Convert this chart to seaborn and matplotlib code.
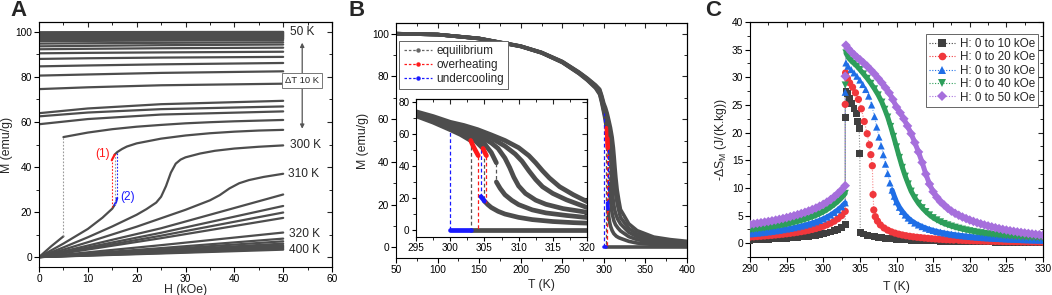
import numpy as np
import matplotlib
matplotlib.use("Agg")
import matplotlib.pyplot as plt
import seaborn as sns
from matplotlib.lines import Line2D
from matplotlib.ticker import MultipleLocator

# ======================= Panel A : M(H) isotherms =======================
H_FM = [0, 10, 25, 50]
T_FM = [50, 60, 70, 80, 90, 100, 110, 120, 130, 140, 150, 160, 170, 180,
        190, 200, 210, 220, 230, 240, 250, 260, 270]
M_FM = [
    [99.85, 99.9, 99.95, 100.0],
    [99.55, 99.6, 99.65, 99.7],
    [99.25, 99.3, 99.35, 99.4],
    [98.95, 99.0, 99.05, 99.1],
    [98.6, 98.65, 98.7, 98.8],
    [98.25, 98.3, 98.4, 98.5],
    [97.9, 97.95, 98.05, 98.2],
    [97.55, 97.6, 97.7, 97.9],
    [97.2, 97.25, 97.4, 97.6],
    [96.85, 96.9, 97.05, 97.25],
    [96.5, 96.55, 96.7, 96.9],
    [95.9, 96.0, 96.15, 96.4],
    [94.8, 94.95, 95.15, 95.4],
    [93.6, 93.8, 94.1, 94.4],
    [92.3, 92.5, 92.75, 93.0],
    [90.5, 90.7, 90.9, 91.2],
    [88.0, 88.3, 88.6, 88.9],
    [84.7, 85.1, 85.6, 86.2],
    [80.6, 81.1, 81.8, 82.5],
    [74.6, 75.4, 76.3, 77.0],
    [63.9, 66.0, 67.9, 69.4],
    [62.5, 64.2, 65.7, 66.9],
    [59.0, 61.3, 63.3, 64.7],
]
# 280 K (transition at 5 kOe)
H_280_LOW = [0, 2.5, 5]
M_280_LOW = [0, 4.8, 9.2]
H_280_UP = [5, 10, 15, 20, 25, 30, 35, 40, 45, 50]
M_280_UP = [53.3, 55.3, 56.8, 57.9, 58.7, 59.4, 59.9, 60.3, 60.6, 60.9]
# 290 K (transition near 15.5 kOe)
H_290_LOW = [0, 5, 10, 13, 15, 15.5]
M_290_LOW = [0, 6.0, 12.5, 17.5, 21.5, 23.2]
H_290_UC = [15.5, 15.8, 16.0]
M_290_UC = [23.2, 24.6, 26.2]
H_290_OH = [14.9, 15.2, 15.5]
M_290_OH = [43.0, 44.3, 45.5]
H_290_UP = [15.5, 16, 17, 18, 20, 25, 30, 35, 40, 45, 50]
M_290_UP = [45.5, 46.6, 48.0, 49.1, 50.5, 52.6, 54.0, 55.0, 55.7, 56.2, 56.5]
# 300 K
H_300 = [0, 5, 10, 15, 20, 22, 24, 25, 26, 27, 28, 29, 30, 33, 36, 40, 45, 50]
M_300 = [0, 4.3, 8.8, 13.6, 18.8, 21.3, 24.2, 26.8, 31.5, 37.5, 41.5, 43.3,
         44.3, 46.0, 47.2, 48.2, 49.0, 49.6]
# 310 K
H_310 = [0, 10, 20, 30, 35, 37, 39, 41, 43, 46, 50]
M_310 = [0, 6.6, 13.5, 21.0, 25.2, 27.5, 30.5, 32.8, 34.2, 35.6, 37.0]
# paramagnetic isotherms
H_PM = [0, 25, 50]
M_PM = [
    [0, 12.8, 27.8],
    [0, 10.8, 22.7],
    [0, 9.5, 19.8],
    [0, 8.4, 17.4],
    [0, 5.3, 10.9],
    [0, 4.0, 8.2],
    [0, 3.4, 7.0],
    [0, 2.9, 6.0],
    [0, 2.6, 5.3],
    [0, 2.3, 4.7],
    [0, 2.05, 4.2],
    [0, 1.8, 3.7],
    [0, 1.6, 3.3],
]

# ======================= Panel B : M(T) =======================
TB_LOW = [50, 100, 150, 200, 225, 250, 270, 280, 290]
MB0_LOW = [100, 99.6, 97.7, 94.0, 91.0, 86.5, 81.3, 78.2, 74.5]
MB10_LOW = [100, 99.6, 97.72, 94.04, 91.05, 86.6, 81.45, 78.4, 74.8]
MB20_LOW = [100, 99.6, 97.74, 94.08, 91.1, 86.7, 81.6, 78.6, 75.1]
MB30_LOW = [100, 99.6, 97.76, 94.12, 91.15, 86.8, 81.75, 78.8, 75.4]
MB40_LOW = [100, 99.6, 97.78, 94.16, 91.2, 86.9, 81.9, 79.0, 75.7]
MB50_LOW = [100, 99.6, 97.8, 94.2, 91.25, 87.0, 82.05, 79.2, 76.0]

TB0 = [295, 297.5, 300, 301.5, 303]
MB0 = [71.5, 67.5, 62.8, 59.8, 56.0]
TB0_OH = [303, 303.3, 303.6, 304.1]
MB0_OH = [56.0, 53.0, 50.5, 46.5]
TB0_ZERO = [303, 400]
MB0_ZERO = [0, 0]
TB0_UC = [300, 303]
MB0_UC = [0, 0]

TB10 = [295, 297.5, 300, 302, 303.5, 304.8]
MB10 = [72.0, 68.3, 63.8, 60.3, 56.5, 51.0]
TB10_OH = [304.8, 305.0, 305.3]
MB10_OH = [51.0, 49.0, 46.5]
TB10_UC = [304.5, 304.8, 305.0]
MB10_UC = [20.8, 19.2, 18.0]
TB10_B = [305.0, 305.5, 306, 307, 308, 310, 312, 315, 318, 320, 330, 340, 360, 380, 400]
MB10_B = [18.0, 15.8, 14.0, 11.6, 9.9, 7.8, 6.4, 5.2, 4.5, 4.2, 2.8, 2.0, 1.3, 0.9, 0.7]

TB20 = [295, 297.5, 300, 302, 304, 305, 306, 306.75]
MB20 = [72.5, 69.0, 64.8, 61.8, 57.2, 54.0, 48.5, 42.0]
TB20_B = [306.75, 307.3, 308, 309, 310, 312, 314, 317, 320, 330, 340, 360, 380, 400]
MB20_B = [30.0, 26.0, 22.0, 18.5, 15.8, 12.5, 10.6, 9.0, 7.7, 5.0, 3.6, 2.3, 1.7, 1.3]

TB30 = [295, 297.5, 300, 302, 304, 306, 307, 308, 308.7, 309.3, 310, 311, 312.5,
        314, 316.5, 320, 330, 340, 360, 380, 400]
MB30 = [73.0, 69.6, 65.7, 63.2, 59.5, 54.5, 51.0, 45.0, 39.0, 33.0, 27.5, 22.8, 18.6,
        16.0, 13.3, 11.0, 7.0, 5.0, 3.2, 2.4, 1.8]
TB40 = [295, 297.5, 300, 302, 304, 306, 308, 309.5, 310.5, 311.5, 312.5, 313.5, 315,
        317, 320, 330, 340, 360, 380, 400]
MB40 = [73.5, 70.3, 66.5, 64.4, 61.3, 57.5, 52.5, 47.5, 43.0, 37.0, 31.5, 27.0, 22.8,
        18.8, 14.0, 8.8, 6.3, 4.0, 3.0, 2.3]
TB50 = [295, 297.5, 300, 302, 304, 306, 308, 310, 311.5, 312.5, 313.5, 314.5, 316,
        318, 320, 330, 340, 360, 380, 400]
MB50 = [74.0, 71.0, 67.4, 65.4, 62.8, 59.5, 56.0, 51.5, 46.5, 42.0, 37.0, 32.5, 27.0,
        22.0, 17.7, 11.0, 7.8, 4.8, 3.6, 2.8]

# vertical jump lines (T, M_from, M_to)
EQ_LINES = [(303.0, 56.0, 0.0), (305.0, 49.0, 18.0), (306.75, 42.0, 30.0)]
OH_LINES = [(304.1, 46.5, 0.0), (305.3, 46.5, 16.5)]
UC_LINES = [(300.0, 0.0, 62.8), (304.5, 20.8, 51.5)]

# ======================= Panel C : -dS_M(T) =======================
C_LABELS = ["H: 0 to 10 kOe", "H: 0 to 20 kOe", "H: 0 to 30 kOe",
            "H: 0 to 40 kOe", "H: 0 to 50 kOe"]
TC_LOW = list(np.arange(290, 303.01, 0.5))
SC10_LOW = [0.55, 0.58, 0.61, 0.64, 0.67, 0.7, 0.74, 0.78, 0.82, 0.86, 0.9, 0.95, 1.0,
            1.06, 1.12, 1.19, 1.27, 1.36, 1.46, 1.57, 1.7, 1.85, 2.02, 2.22, 2.47, 2.8, 3.35]
SC20_LOW = [1.1, 1.15, 1.2, 1.25, 1.3, 1.36, 1.42, 1.48, 1.55, 1.62, 1.7, 1.78, 1.87,
            1.97, 2.08, 2.2, 2.33, 2.48, 2.65, 2.84, 3.06, 3.32, 3.62, 3.98, 4.42, 4.98, 5.75]
SC30_LOW = [1.7, 1.76, 1.83, 1.9, 1.98, 2.06, 2.15, 2.24, 2.34, 2.45, 2.56, 2.68, 2.81,
            2.95, 3.1, 3.27, 3.45, 3.65, 3.87, 4.12, 4.4, 4.72, 5.1, 5.55, 6.05, 6.6, 7.3]
SC40_LOW = [2.4, 2.48, 2.56, 2.65, 2.74, 2.84, 2.94, 3.05, 3.17, 3.3, 3.44, 3.59, 3.75,
            3.92, 4.1, 4.3, 4.52, 4.76, 5.02, 5.32, 5.66, 6.05, 6.5, 7.0, 7.55, 8.2, 9.0]
SC50_LOW = [3.4, 3.5, 3.6, 3.7, 3.81, 3.92, 4.04, 4.17, 4.31, 4.46, 4.62, 4.79, 4.97,
            5.16, 5.36, 5.58, 5.82, 6.08, 6.36, 6.68, 7.03, 7.43, 7.88, 8.4, 8.98, 9.62, 10.4]

TC10_HI = [303.0, 303.1, 303.3, 303.6, 303.9, 304.2, 304.5, 304.7, 304.9, 305.0,
           305.05, 305.5, 306, 306.5, 307, 307.5, 308, 308.5, 309, 309.5, 310, 310.5,
           311, 311.5, 312, 312.5, 313, 313.5, 314, 314.5, 315, 315.5, 316, 316.5, 317,
           317.5, 318]
SC10_HI = [22.8, 27.5, 27.0, 26.2, 25.3, 24.4, 23.4, 22.0, 20.8, 16.2,
           1.9, 1.65, 1.45, 1.3, 1.17, 1.06, 0.97, 0.89, 0.82, 0.76, 0.71, 0.66,
           0.62, 0.58, 0.55, 0.52, 0.49, 0.46, 0.44, 0.42, 0.4, 0.38, 0.36, 0.34, 0.33,
           0.31, 0.3]
TC20_HI = [303.0, 303.05, 303.3, 303.6, 304.0, 304.4, 304.8, 305.2, 305.6, 306.0, 306.3,
           306.5, 306.7, 306.8, 306.9, 307.1, 307.4, 307.8, 308.3, 308.8, 309.3, 309.8,
           310.3, 310.8, 311.3, 311.8, 312.3, 312.8, 313.3, 313.8, 314.3, 314.8, 315.3,
           315.8, 316.3, 316.8, 317.3, 317.8]
SC20_HI = [25.1, 30.8, 29.8, 29.0, 28.2, 27.2, 26.0, 24.3, 22.0, 19.8, 17.8,
           16.0, 14.0, 8.8, 6.0, 4.8, 4.0, 3.3, 2.75, 2.35, 2.05, 1.82,
           1.63, 1.48, 1.35, 1.24, 1.15, 1.07, 1.0, 0.93, 0.87, 0.81, 0.76,
           0.71, 0.67, 0.63, 0.6, 0.57]
TC30_HI = [303.0, 303.1, 303.4, 303.8, 304.2, 304.6, 305.0, 305.4, 305.8, 306.2, 306.6,
           307.0, 307.3, 307.6, 307.9, 308.2, 308.5, 308.8, 309.1, 309.4, 309.7, 310.0,
           310.4, 310.8, 311.2, 311.6, 312.0, 312.5, 313, 313.5, 314, 314.5, 315, 315.5,
           316, 316.5, 317, 317.5, 318]
SC30_HI = [27.3, 32.6, 32.0, 31.4, 30.8, 30.2, 29.5, 28.7, 27.8, 26.6, 25.0,
           22.9, 21.0, 19.2, 17.6, 16.0, 14.3, 12.6, 10.9, 9.6, 8.5, 7.5,
           6.5, 5.75, 5.1, 4.55, 4.1, 3.65, 3.3, 3.0, 2.72, 2.5, 2.3, 2.13,
           1.98, 1.85, 1.73, 1.62, 1.52]
TC40_HI = [303.0, 303.1, 303.4, 303.8, 304.2, 304.6, 305.0, 305.5, 306.0, 306.5, 307.0,
           307.5, 308.0, 308.4, 308.8, 309.2, 309.6, 310.0, 310.4, 310.8, 311.2, 311.6,
           312.0, 312.5, 313.0, 313.5, 314.0, 314.5, 315.0, 315.5, 316, 316.5, 317, 317.5,
           318]
SC40_HI = [28.6, 34.4, 33.6, 33.0, 32.5, 32.0, 31.4, 30.6, 29.8, 28.9, 27.9,
           26.8, 25.5, 24.2, 22.8, 21.1, 19.3, 17.4, 15.5, 13.7, 12.1, 10.7,
           9.4, 8.2, 7.2, 6.4, 5.7, 5.1, 4.6, 4.2, 3.85, 3.55, 3.3, 3.08,
           2.88]
TC50_HI = [303.0, 303.1, 303.4, 303.8, 304.2, 304.6, 305.0, 305.5, 306.0, 306.5, 307.0,
           307.5, 308.0, 308.5, 309.0, 309.5, 310.0, 310.5, 311.0, 311.5, 312.0, 312.5,
           313.0, 313.5, 314.0, 314.5, 315.0, 315.5, 316, 316.5, 317, 317.5, 318]
SC50_HI = [30.2, 35.8, 35.2, 34.6, 34.1, 33.6, 33.2, 32.6, 32.0, 31.3, 30.6,
           29.8, 29.0, 28.1, 27.2, 26.0, 24.6, 23.6, 22.5, 21.2, 19.8, 18.2,
           16.5, 14.6, 12.5, 10.7, 9.3, 8.3, 7.5, 6.9, 6.3, 5.8, 5.4]

TC_TAIL = list(np.arange(318.5, 330.01, 0.5))
SC10_TAIL = [0.29, 0.28, 0.27, 0.26, 0.25, 0.24, 0.23, 0.22, 0.21, 0.2, 0.195, 0.19,
             0.18, 0.175, 0.17, 0.165, 0.16, 0.155, 0.15, 0.145, 0.14, 0.135, 0.13, 0.13]
SC20_TAIL = [0.54, 0.51, 0.48, 0.45, 0.43, 0.41, 0.39, 0.37, 0.35, 0.34, 0.32, 0.31,
             0.29, 0.28, 0.27, 0.26, 0.25, 0.24, 0.23, 0.22, 0.215, 0.21, 0.205, 0.2]
SC30_TAIL = [1.44, 1.36, 1.29, 1.22, 1.16, 1.1, 1.05, 1.0, 0.96, 0.92, 0.88, 0.85,
             0.82, 0.78, 0.75, 0.72, 0.69, 0.67, 0.64, 0.62, 0.6, 0.58, 0.56, 0.54]
SC40_TAIL = [2.7, 2.53, 2.38, 2.24, 2.11, 1.99, 1.88, 1.78, 1.69, 1.6, 1.52, 1.45,
             1.38, 1.32, 1.26, 1.2, 1.15, 1.1, 1.06, 1.02, 0.98, 0.94, 0.91, 0.88]
SC50_TAIL = [5.05, 4.73, 4.45, 4.18, 3.94, 3.71, 3.5, 3.3, 3.12, 2.95, 2.79, 2.64,
             2.5, 2.37, 2.25, 2.14, 2.04, 1.94, 1.85, 1.76, 1.68, 1.6, 1.53, 1.46]
# temperature from which each high-T branch is continuous (dense data in the original)
C_DENSE_FROM = [305.05, 307.1, 309.4, 303.1, 303.1]

# ======================= styling =======================
sns.set_theme(style="ticks")
plt.rcParams["font.family"] = ["Liberation Sans", "DejaVu Sans"]
plt.rcParams["mathtext.fontset"] = "custom"
plt.rcParams["mathtext.rm"] = "Liberation Sans"
plt.rcParams["mathtext.it"] = "Liberation Sans:italic"
plt.rcParams["axes.linewidth"] = 0.8
plt.rcParams["axes.edgecolor"] = "black"

TICK_FS = 7.3
LABEL_FS = 8.8
GREY = "#4d4d4d"
RED = "#ff1a1a"
BLUE = "#1a1aff"

W, Hpx = 1052, 295
fig = plt.figure(figsize=(W / 100, Hpx / 100), dpi=100)


def frac(l, t, r, b):
    return [l / W, 1 - b / Hpx, (r - l) / W, (b - t) / Hpx]


def line(ax, x, y, **kw):
    sns.lineplot(x=list(x), y=list(y), ax=ax, estimator=None, sort=False, **kw)


def style_axes(ax, xmaj, xmin, ymaj, ymin, mirror=True):
    ax.xaxis.set_major_locator(MultipleLocator(xmaj))
    ax.xaxis.set_minor_locator(MultipleLocator(xmin))
    ax.yaxis.set_major_locator(MultipleLocator(ymaj))
    ax.yaxis.set_minor_locator(MultipleLocator(ymin))
    ax.tick_params(which="major", direction="out", length=3.5, width=0.8,
                   labelsize=TICK_FS, pad=1.5, colors="black")
    ax.tick_params(which="minor", direction="out", length=2, width=0.7)
    ax.grid(False)
    ax.set_facecolor("white")
    for s in ax.spines.values():
        s.set_color("black")
        s.set_linewidth(0.8)
    if mirror:
        sx = ax.secondary_xaxis("top")
        sx.xaxis.set_major_locator(MultipleLocator(xmaj))
        sx.xaxis.set_minor_locator(MultipleLocator(xmin))
        sx.tick_params(which="major", direction="in", length=3.5, width=0.8, labeltop=False)
        sx.tick_params(which="minor", direction="in", length=2, width=0.7)
        sy = ax.secondary_yaxis("right")
        sy.yaxis.set_major_locator(MultipleLocator(ymaj))
        sy.yaxis.set_minor_locator(MultipleLocator(ymin))
        sy.tick_params(which="major", direction="in", length=3.5, width=0.8, labelright=False)
        sy.tick_params(which="minor", direction="in", length=2, width=0.7)


# ---------------------- Panel A ----------------------
axA = fig.add_axes(frac(39, 22, 332, 267))
LW_A = 1.6
for row in M_FM:
    line(axA, H_FM, row, color=GREY, linewidth=LW_A)
for row in M_PM:
    line(axA, H_PM, row, color=GREY, linewidth=LW_A)
line(axA, H_310, M_310, color=GREY, linewidth=LW_A)
line(axA, H_300, M_300, color=GREY, linewidth=LW_A)
line(axA, H_280_LOW, M_280_LOW, color=GREY, linewidth=LW_A)
line(axA, H_280_UP, M_280_UP, color=GREY, linewidth=LW_A)
line(axA, H_290_LOW, M_290_LOW, color=GREY, linewidth=LW_A)
line(axA, H_290_UP, M_290_UP, color=GREY, linewidth=LW_A)
line(axA, H_290_OH, M_290_OH, color=RED, linewidth=LW_A)
line(axA, H_290_UC, M_290_UC, color=BLUE, linewidth=LW_A)
# jump lines
line(axA, [H_280_LOW[-1], H_280_UP[0]], [M_280_LOW[-1], M_280_UP[0]],
     color="#9a9a9a", linewidth=0.8, linestyle=(0, (1.5, 1.5)))
line(axA, [H_290_OH[0], H_290_OH[0]], [M_290_LOW[-1] - 0.8, M_290_OH[0]],
     color=RED, linewidth=0.8, linestyle=(0, (1.5, 1.5)))
line(axA, [H_290_UC[-1], H_290_UC[-1]], [M_290_UC[-1], M_290_UP[1]],
     color=BLUE, linewidth=0.8, linestyle=(0, (1.5, 1.5)))
line(axA, [15.5, 15.5], [M_290_LOW[-1], M_290_UP[0]],
     color="#9a9a9a", linewidth=0.8, linestyle=(0, (1.5, 1.5)))

axA.set_xlim(0, 60)
axA.set_ylim(-4.4, 104.4)
style_axes(axA, 10, 5, 20, 10)
axA.set_xlabel("H (kOe)", fontsize=LABEL_FS)
axA.set_ylabel("M (emu/g)", fontsize=LABEL_FS)
axA.xaxis.set_label_coords(0.5, -0.094)
axA.xaxis.label.set_va("center")
axA.yaxis.set_label_coords(-0.108, 0.5)
axA.yaxis.label.set_va("center")

TEXT_FS = 8.6
axA.text(51.4, 100.0, "50 K", fontsize=TEXT_FS, va="center", ha="left")
axA.text(51.3, 49.8, "300 K", fontsize=TEXT_FS, va="center", ha="left")
axA.text(50.9, 36.8, "310 K", fontsize=TEXT_FS, va="center", ha="left")
axA.text(51.1, 10.2, "320 K", fontsize=TEXT_FS, va="center", ha="left")
axA.text(51.1, 3.0, "400 K", fontsize=TEXT_FS, va="center", ha="left")
axA.annotate("", xy=(53.9, 95.2), xytext=(53.9, 57.0),
             arrowprops=dict(arrowstyle="<|-|>", color="#555555", lw=0.9,
                             mutation_scale=6, shrinkA=0, shrinkB=0))
axA.text(53.9, 78.3, "ΔT 10 K", fontsize=6.8, ha="center", va="center",
         bbox=dict(boxstyle="square,pad=0.3", fc="white", ec="#777777", lw=0.7))
axA.text(14.6, 45.8, "(1)", color=RED, fontsize=TEXT_FS, ha="right", va="center")
axA.text(16.7, 26.6, "(2)", color=BLUE, fontsize=TEXT_FS, ha="left", va="center")

# ---------------------- Panel B ----------------------
axB = fig.add_axes(frac(396, 23, 687, 258))
axI = fig.add_axes(frac(416, 99, 587, 237))


def draw_B(ax, lw):
    line(ax, TB_LOW + TB0, MB0_LOW + MB0, color=GREY, linewidth=lw)
    line(ax, TB_LOW + TB10, MB10_LOW + MB10, color=GREY, linewidth=lw)
    line(ax, TB_LOW + TB20, MB20_LOW + MB20, color=GREY, linewidth=lw)
    line(ax, TB_LOW + TB30, MB30_LOW + MB30, color=GREY, linewidth=lw)
    line(ax, TB_LOW + TB40, MB40_LOW + MB40, color=GREY, linewidth=lw)
    line(ax, TB_LOW + TB50, MB50_LOW + MB50, color=GREY, linewidth=lw)
    line(ax, TB10_B, MB10_B, color=GREY, linewidth=lw)
    line(ax, TB20_B, MB20_B, color=GREY, linewidth=lw)
    line(ax, TB0_ZERO, MB0_ZERO, color=GREY, linewidth=lw)
    for t, a, b in EQ_LINES:
        line(ax, [t, t], [a, b], color="#555555", linewidth=0.9, linestyle=(0, (3, 2)))
    for t, a, b in OH_LINES:
        line(ax, [t, t], [a, b], color=RED, linewidth=0.9, linestyle=(0, (3, 2)))
    for t, a, b in UC_LINES:
        line(ax, [t, t], [a, b], color=BLUE, linewidth=0.9, linestyle=(0, (3, 2)))
    line(ax, TB0_OH, MB0_OH, color=RED, linewidth=lw)
    line(ax, TB10_OH, MB10_OH, color=RED, linewidth=lw)
    line(ax, TB0_UC, MB0_UC, color=BLUE, linewidth=lw)
    line(ax, TB10_UC, MB10_UC, color=BLUE, linewidth=lw)


draw_B(axB, 2.6)
axB.set_xlim(50, 400)
axB.set_ylim(-5, 105)
style_axes(axB, 50, 25, 20, 10)
axB.set_xlabel("T (K)", fontsize=LABEL_FS)
axB.set_ylabel("M (emu/g)", fontsize=LABEL_FS)
axB.xaxis.set_label_coords(0.5, -0.115)
axB.xaxis.label.set_va("center")
axB.yaxis.set_label_coords(-0.113, 0.5)
axB.yaxis.label.set_va("center")

handlesB = [
    Line2D([0], [0], color="#666666", lw=0.9, ls=(0, (2, 1.5)), marker="o", ms=2.2),
    Line2D([0], [0], color=RED, lw=0.9, ls=(0, (2, 1.5)), marker="o", ms=2.2),
    Line2D([0], [0], color=BLUE, lw=0.9, ls=(0, (2, 1.5)), marker="o", ms=2.2),
]
legB = axB.legend(handlesB, ["equilibrium", "overheating", "undercooling"],
                  loc="upper left", bbox_to_anchor=(0.012, 0.922), fontsize=8.5,
                  frameon=True, fancybox=False, edgecolor="#666666", framealpha=1,
                  handlelength=2.4, handletextpad=0.4, labelspacing=0.15,
                  borderpad=0.35, borderaxespad=0)
legB.get_frame().set_linewidth(0.7)

draw_B(axI, 3.4)
axI.set_xlim(295, 320)
axI.set_ylim(-4.5, 82)
style_axes(axI, 5, 2.5, 20, 10)
axI.tick_params(which="major", length=3, labelsize=7.2)
axI.set_xlabel("")
axI.set_ylabel("")

# ---------------------- Panel C ----------------------
axC = fig.add_axes(frac(750, 22, 1043, 257))
C_COLORS = ["#3f3f3f", "#f0373c", "#1f6ee6", "#2d9e5a", "#a66fdc"]
C_MARKERS = ["s", "o", "^", "v", "D"]
C_SIZES = [24, 27, 27, 27, 24]
C_LOW = [SC10_LOW, SC20_LOW, SC30_LOW, SC40_LOW, SC50_LOW]
C_THI = [TC10_HI, TC20_HI, TC30_HI, TC40_HI, TC50_HI]
C_SHI = [SC10_HI, SC20_HI, SC30_HI, SC40_HI, SC50_HI]
C_TAIL = [SC10_TAIL, SC20_TAIL, SC30_TAIL, SC40_TAIL, SC50_TAIL]
for col, mk, sz, low, thi, shi, tail, t0 in zip(C_COLORS, C_MARKERS, C_SIZES, C_LOW,
                                                C_THI, C_SHI, C_TAIL, C_DENSE_FROM):
    tt = TC_LOW + thi + TC_TAIL
    ss = low + shi + tail
    line(axC, tt, ss, color=col, linewidth=0.8, linestyle=(0, (1, 1.5)), alpha=0.6)
    # dense-data bands (continuous runs of overlapping points)
    line(axC, TC_LOW, low, color=col, linewidth=3.6, solid_capstyle="round")
    th = [t for t in thi + TC_TAIL if t >= t0]
    sh = [s for t, s in zip(thi + TC_TAIL, shi + tail) if t >= t0]
    line(axC, th, sh, color=col, linewidth=3.6, solid_capstyle="round")
    sns.scatterplot(x=tt, y=ss, ax=axC, color=col, marker=mk, s=sz, linewidth=0,
                    edgecolor="none", legend=False, zorder=3)
axC.set_xlim(290, 330)
axC.set_ylim(-2.5, 40)
style_axes(axC, 5, 2.5, 5, 2.5)
axC.set_xlabel("T (K)", fontsize=LABEL_FS)
axC.set_ylabel(r"-ΔS$_\mathregular{M}$ (J/(K.kg))", fontsize=LABEL_FS)
axC.xaxis.set_label_coords(0.5, -0.128)
axC.xaxis.label.set_va("center")
axC.yaxis.set_label_coords(-0.1, 0.5)
axC.yaxis.label.set_va("center")

handlesC = [Line2D([0], [0], color=c, lw=0.8, ls=(0, (1, 1.5)), marker=m,
                   ms=5.5 if m != "D" else 5.0, markeredgewidth=0, markerfacecolor=c)
            for c, m in zip(C_COLORS, C_MARKERS)]
legC = axC.legend(handlesC, C_LABELS, loc="upper right", bbox_to_anchor=(0.984, 0.947),
                  fontsize=8.4, frameon=True, fancybox=False, edgecolor="#666666",
                  framealpha=1, handlelength=2.2, handletextpad=0.4, labelspacing=0.12,
                  borderpad=0.3, borderaxespad=0)
legC.get_frame().set_linewidth(0.7)

# ---------------------- panel letters ----------------------
fig.text(10 / W, 1 - 11 / Hpx, "A", fontsize=16, fontweight="bold", va="center", ha="left")
fig.text(349 / W, 1 - 11 / Hpx, "B", fontsize=16, fontweight="bold", va="center", ha="left")
fig.text(705 / W, 1 - 11 / Hpx, "C", fontsize=16, fontweight="bold", va="center", ha="left")

fig.savefig("out.png", dpi=100, facecolor="white")
